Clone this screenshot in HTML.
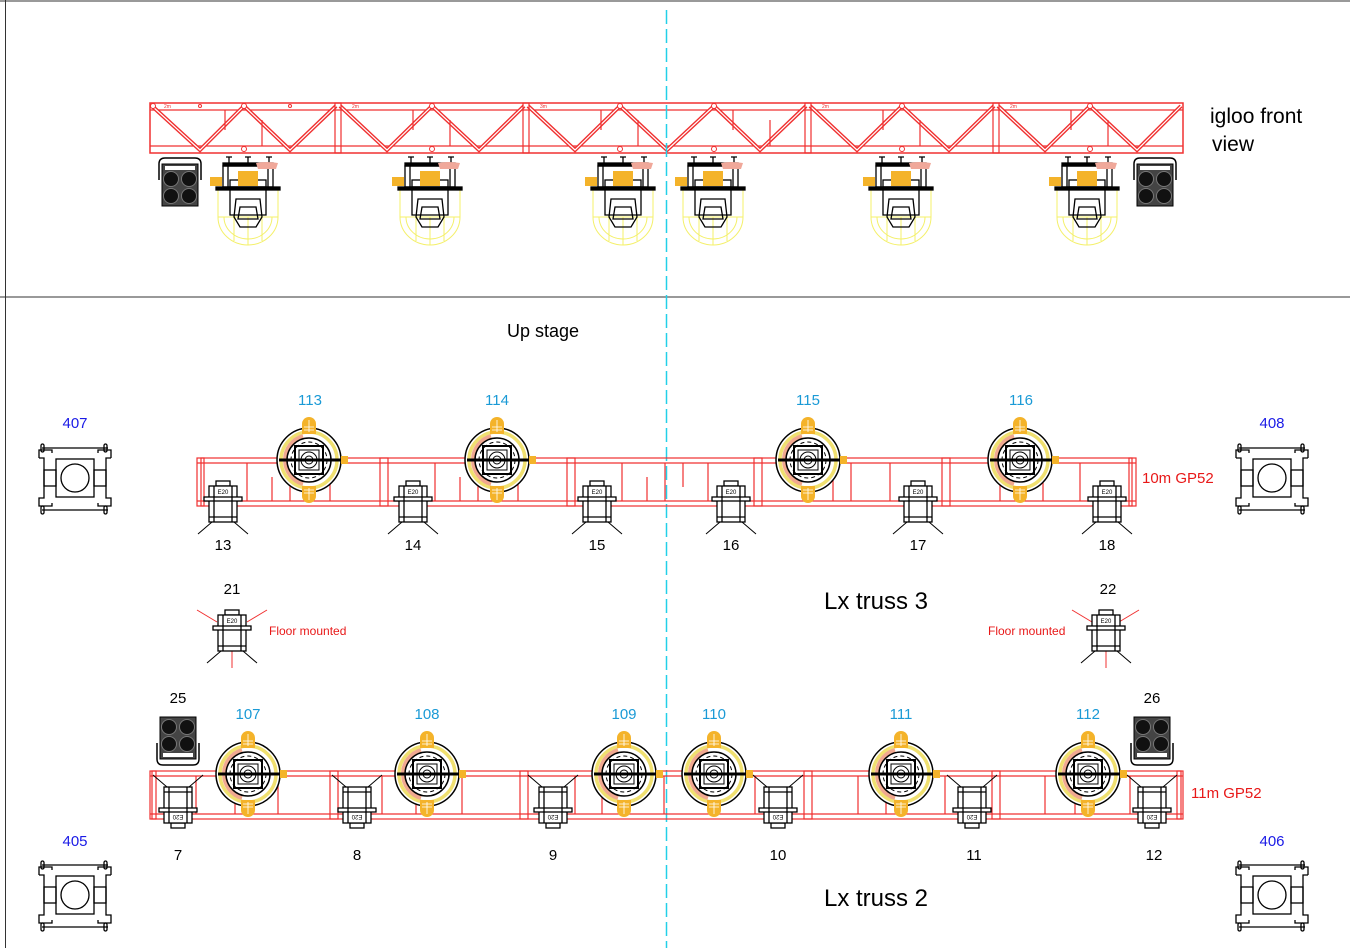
<!DOCTYPE html>
<html><head><meta charset="utf-8"><style>
html,body{margin:0;padding:0;background:#fff;}
svg{display:block;font-family:"Liberation Sans",Arial,sans-serif;}
</style></head><body>
<svg width="1350" height="948" viewBox="0 0 1350 948" xmlns="http://www.w3.org/2000/svg">
<defs>
  <g id="mhs">
    <g fill="none" stroke="#f4f06a" stroke-width="1">
      <path d="M-30 32 L-30 60 A30 28 0 0 0 30 60 L30 32"/>
      <path d="M-24 60 A24 22 0 0 0 24 60"/>
      <line x1="-30" y1="60" x2="30" y2="60"/>
      <line x1="0" y1="60" x2="0" y2="88"/>
      <line x1="-14" y1="60" x2="-14" y2="84"/><line x1="14" y1="60" x2="14" y2="84"/>
    </g>
    <g stroke="#000" fill="none" stroke-width="1.3">
      <path d="M-22 0h6M-19 0v6M-3 0h6M0 0v6M18 0h6M21 0v6"/>
      <rect x="-25" y="6" width="50" height="3" fill="#000"/>
      <rect x="-25" y="9" width="50" height="21"/>
      <line x1="-20" y1="9" x2="-20" y2="30"/><line x1="20" y1="9" x2="20" y2="30"/>
      <rect x="-18" y="23" width="36" height="7"/>
      <rect x="-32" y="30" width="64" height="3" fill="#000"/>
      <path d="M-18 33 L-18 58 L18 58 L18 33"/>
      <path d="M-12 42 L-14 60 L-8 70 L8 70 L14 60 L12 42 Z"/>
      <path d="M-8 50 L8 50 L10 62 L-10 62 Z"/>
    </g>
    <rect x="-10" y="14" width="20" height="15" fill="#f4b32a"/>
    <rect x="-38" y="20" width="12" height="9" fill="#f4b32a"/>
    <path d="M8 6 Q18 4 30 6 L28 12 L10 12 Z" fill="#f0a89a"/>
  </g>
  <g id="mht">
    <circle r="32" fill="#fff" stroke="#000" stroke-width="1.5"/>
    <circle r="28" fill="none" stroke="#f0e070" stroke-width="3.5"/>
    <path d="M-6 24 A25 25 0 0 1 -6 -24" fill="none" stroke="#f0a890" stroke-width="4"/>
    <circle r="22" fill="none" stroke="#000" stroke-width="1.5"/>
    <circle r="18" fill="none" stroke="#000" stroke-width="1" stroke-dasharray="4 3"/>
    <rect x="-14" y="-14" width="28" height="28" fill="none" stroke="#000" stroke-width="2"/>
    <rect x="-10" y="-10" width="20" height="20" fill="none" stroke="#000" stroke-width="1"/>
    <circle r="8" fill="none" stroke="#000" stroke-width="1"/>
    <circle r="4" fill="none" stroke="#000" stroke-width="1"/>
    <line x1="-30" y1="0" x2="34" y2="0" stroke="#000" stroke-width="3"/>
    <rect x="32" y="-4" width="7" height="8" fill="#f4b32a"/>
    <path d="M-7 -26 L-7 -36 A7 7 0 0 1 7 -36 L7 -26 Z" fill="#f4b32a"/>
    <path d="M-7 26 L-7 36 A7 7 0 0 0 7 36 L7 26 Z" fill="#f4b32a"/>
    <path d="M-5 -33h10M-5 -30h10M0 -40v12M-5 33h10M-5 30h10M0 28v12" stroke="#fff" stroke-width="0.8"/>
  </g>
  <g id="par" stroke="#000" fill="#fff" stroke-width="1.3">
    <rect x="-7" y="-18" width="14" height="5"/>
    <rect x="-14" y="-13" width="28" height="36"/>
    <rect x="-19" y="-2" width="38" height="4" />
    <line x1="-9" y1="-13" x2="-9" y2="23"/><line x1="9" y1="-13" x2="9" y2="23"/>
    <line x1="-14" y1="18" x2="14" y2="18"/>
    <path d="M-11 23 L-25 35 M11 23 L25 35" fill="none" stroke-width="1"/>
    <text x="0" y="-5" font-size="6" text-anchor="middle" fill="#000" stroke="none">E20</text>
  </g>
  <g id="bl">
    <path d="M-21 4 L-21 20 Q-21 26 -15 26 L15 26 Q21 26 21 20 L21 4" fill="none" stroke="#000" stroke-width="1.5"/>
    <rect x="-18" y="-22" width="36" height="42" fill="#444" stroke="#000"/>
    <circle cx="-9" cy="-12" r="7.5" fill="#111" stroke="#777"/><circle cx="9" cy="-12" r="7.5" fill="#111" stroke="#777"/>
    <circle cx="-9" cy="5" r="7.5" fill="#111" stroke="#777"/><circle cx="9" cy="5" r="7.5" fill="#111" stroke="#777"/>
    <rect x="-15" y="14" width="30" height="4" fill="#fff"/>
  </g>
  <g id="br" fill="none" stroke="#000" stroke-width="1.3">
    <path d="M-36 -20 V-28 H-23 V-25 M-36 -20 H-31 V20 H-36 V28 H-23 V25"/>
    <path d="M36 -20 V-28 H23 V-25 M36 -20 H31 V20 H36 V28 H23 V25"/>
    <line x1="-33" y1="-30" x2="33" y2="-30"/><line x1="-33" y1="32" x2="33" y2="32"/>
    <rect x="-34" y="-34" width="3" height="8" rx="1.5"/><rect x="29" y="-34" width="3" height="8" rx="1.5"/>
    <rect x="-34" y="28" width="3" height="8" rx="1.5"/><rect x="29" y="28" width="3" height="8" rx="1.5"/>
    <rect x="-19" y="-19" width="38" height="38"/>
    <rect x="-31" y="-8" width="12" height="16"/><rect x="19" y="-8" width="12" height="16"/>
    <circle r="14"/>
  </g>
</defs>

<g stroke="#333" stroke-width="1">
  <line x1="0" y1="1" x2="1350" y2="1"/>
  <line x1="5.5" y1="0" x2="5.5" y2="948"/>
  <line x1="0" y1="297" x2="1350" y2="297"/>
</g>

<g stroke="#f03030" fill="none">
  <rect x="150" y="103" width="1033" height="50" stroke-width="1.5"/>
  <line x1="150" y1="110" x2="1183" y2="110" stroke-width="1.2"/>
  <line x1="150" y1="146" x2="1183" y2="146" stroke-width="1.2"/>
  <g stroke-width="4">
    <polyline points="152,106 200,150 244,106 290,150 336,106"/>
    <polyline points="340,106 387,150 432,106 479,150 524,106"/>
    <polyline points="528,106 575,150 620,106 667,150 714,106 760,150 806,106"/>
    <polyline points="810,106 857,150 902,106 949,150 994,106"/>
    <polyline points="998,106 1045,150 1090,106 1137,150 1181,106"/>
  </g>
  <g stroke="#fff" stroke-width="1.2">
    <polyline points="152,106 200,150 244,106 290,150 336,106"/>
    <polyline points="340,106 387,150 432,106 479,150 524,106"/>
    <polyline points="528,106 575,150 620,106 667,150 714,106 760,150 806,106"/>
    <polyline points="810,106 857,150 902,106 949,150 994,106"/>
    <polyline points="998,106 1045,150 1090,106 1137,150 1181,106"/>
  </g>
  <g stroke-width="1.2">
    <rect x="335" y="103" width="6" height="50"/><rect x="523" y="103" width="6" height="50"/>
    <rect x="805" y="103" width="6" height="50"/><rect x="993" y="103" width="6" height="50"/>
    <path d="M225 110v20M262 120v26M413 110v20M450 120v26M601 110v20M638 120v26M733 110v20M770 120v26M883 110v20M920 120v26M1071 110v20M1108 120v26"/>
  </g>
  <g fill="#fff" stroke-width="1">
    <circle cx="153" cy="106" r="2.5"/><circle cx="244" cy="106" r="2.5"/><circle cx="200" cy="106" r="1.5"/><circle cx="290" cy="106" r="1.5"/>
    <circle cx="244" cy="149" r="2.5"/><circle cx="432" cy="149" r="2.5"/><circle cx="620" cy="149" r="2.5"/><circle cx="714" cy="149" r="2.5"/><circle cx="902" cy="149" r="2.5"/><circle cx="1090" cy="149" r="2.5"/>
    <circle cx="432" cy="106" r="2.5"/><circle cx="620" cy="106" r="2.5"/><circle cx="714" cy="106" r="2.5"/><circle cx="902" cy="106" r="2.5"/><circle cx="1090" cy="106" r="2.5"/>
  </g>
</g>
<g font-size="5" fill="#f03030"><text x="164" y="108">2m</text><text x="352" y="108">2m</text><text x="540" y="108">3m</text><text x="822" y="108">2m</text><text x="1010" y="108">2m</text></g>

<use href="#mhs" x="248" y="157"/><use href="#mhs" x="430" y="157"/><use href="#mhs" x="623" y="157"/>
<use href="#mhs" x="713" y="157"/><use href="#mhs" x="901" y="157"/><use href="#mhs" x="1087" y="157"/>
<use href="#bl" transform="translate(180 184) scale(1 -1)"/><use href="#bl" transform="translate(1155 184) scale(1 -1)"/>

<line x1="666.5" y1="10" x2="666.5" y2="948" stroke="#22d0e8" stroke-width="1.5" stroke-dasharray="14 5"/>

<g stroke="#f03030" fill="none" stroke-width="1.2">
  <rect x="197" y="458" width="939" height="48"/>
  <line x1="197" y1="463" x2="1136" y2="463"/><line x1="197" y1="501" x2="1136" y2="501"/>
  <rect x="380" y="458" width="8" height="48"/><rect x="567" y="458" width="8" height="48"/>
  <rect x="754" y="458" width="8" height="48"/><rect x="942" y="458" width="8" height="48"/>
  <rect x="201" y="458" width="3" height="48"/><rect x="1129" y="458" width="3" height="48"/>
  <path d="M247 463v38M272 477v24M290 463v38M330 463v38M435 463v38M460 477v24M478 463v38M518 463v38M622 463v38M647 477v24M665 463v38M683 463v24M708 463v38M808 463v38M833 477v24M851 463v38M890 463v38M1000 463v38M1025 477v24M1043 463v38M1080 463v38"/>
</g>
<use href="#mht" x="309" y="460"/><use href="#mht" x="497" y="460"/><use href="#mht" x="808" y="460"/><use href="#mht" x="1020" y="460"/>
<use href="#par" x="223" y="499"/><use href="#par" x="413" y="499"/><use href="#par" x="597" y="499"/>
<use href="#par" x="731" y="499"/><use href="#par" x="918" y="499"/><use href="#par" x="1107" y="499"/>

<g stroke="#f03030" fill="none" stroke-width="1.2">
  <rect x="150" y="771" width="1033" height="48"/>
  <line x1="150" y1="776" x2="1183" y2="776"/><line x1="150" y1="814" x2="1183" y2="814"/>
  <rect x="152" y="771" width="4" height="48"/><rect x="330" y="771" width="8" height="48"/>
  <rect x="520" y="771" width="8" height="48"/><rect x="804" y="771" width="8" height="48"/>
  <rect x="992" y="771" width="8" height="48"/><rect x="1177" y="771" width="4" height="48"/>
  <path d="M196 776v38M235 776v38M278 776v38M382 776v38M416 776v38M462 776v38M575 776v38M602 776v38M664 776v38M755 776v38M858 776v38M886 776v38M945 776v38M1045 776v38M1075 776v38M1130 776v38"/>
</g>
<use href="#mht" x="248" y="774"/><use href="#mht" x="427" y="774"/><use href="#mht" x="624" y="774"/>
<use href="#mht" x="714" y="774"/><use href="#mht" x="901" y="774"/><use href="#mht" x="1088" y="774"/>
<use href="#par" transform="translate(178 810) rotate(180)"/><use href="#par" transform="translate(357 810) rotate(180)"/>
<use href="#par" transform="translate(553 810) rotate(180)"/><use href="#par" transform="translate(778 810) rotate(180)"/>
<use href="#par" transform="translate(972 810) rotate(180)"/><use href="#par" transform="translate(1152 810) rotate(180)"/>

<g stroke="#f03030" stroke-width="1"><path d="M197 610L217 622M267 610L247 622M232 648V668"/><path d="M1072 610L1092 622M1139 610L1119 622M1106 648V668"/></g>
<use href="#par" x="232" y="628"/><use href="#par" x="1106" y="628"/>

<use href="#bl" x="178" y="739"/><use href="#bl" x="1152" y="739"/>
<use href="#br" x="75" y="478"/><use href="#br" x="1272" y="478"/><use href="#br" x="75" y="895"/><use href="#br" x="1272" y="895"/>

<g font-size="15" fill="#000" text-anchor="middle">
  <text x="223" y="550">13</text><text x="413" y="550">14</text><text x="597" y="550">15</text><text x="731" y="550">16</text><text x="918" y="550">17</text><text x="1107" y="550">18</text>
  <text x="178" y="860">7</text><text x="357" y="860">8</text><text x="553" y="860">9</text><text x="778" y="860">10</text><text x="974" y="860">11</text><text x="1154" y="860">12</text>
  <text x="232" y="594">21</text><text x="1108" y="594">22</text><text x="178" y="703">25</text><text x="1152" y="703">26</text>
</g>
<g font-size="15" fill="#1a9ad6" text-anchor="middle">
  <text x="310" y="405">113</text><text x="497" y="405">114</text><text x="808" y="405">115</text><text x="1021" y="405">116</text>
  <text x="248" y="719">107</text><text x="427" y="719">108</text><text x="624" y="719">109</text><text x="714" y="719">110</text><text x="901" y="719">111</text><text x="1088" y="719">112</text>
</g>
<g font-size="15" fill="#1a1ae6" text-anchor="middle">
  <text x="75" y="428">407</text><text x="1272" y="428">408</text><text x="75" y="846">405</text><text x="1272" y="846">406</text>
</g>
<g fill="#e81818"><text x="269" y="635" font-size="12">Floor mounted</text><text x="988" y="635" font-size="12">Floor mounted</text>
<text x="1142" y="483" font-size="15">10m GP52</text><text x="1191" y="798" font-size="15">11m GP52</text></g>
<text x="543" y="337" font-size="18" text-anchor="middle">Up stage</text>
<text x="876" y="609" font-size="24" text-anchor="middle">Lx truss 3</text>
<text x="876" y="906" font-size="24" text-anchor="middle">Lx truss 2</text>
<text x="1210" y="123" font-size="21">igloo front</text>
<text x="1212" y="151" font-size="21">view</text>
</svg>
</body></html>
